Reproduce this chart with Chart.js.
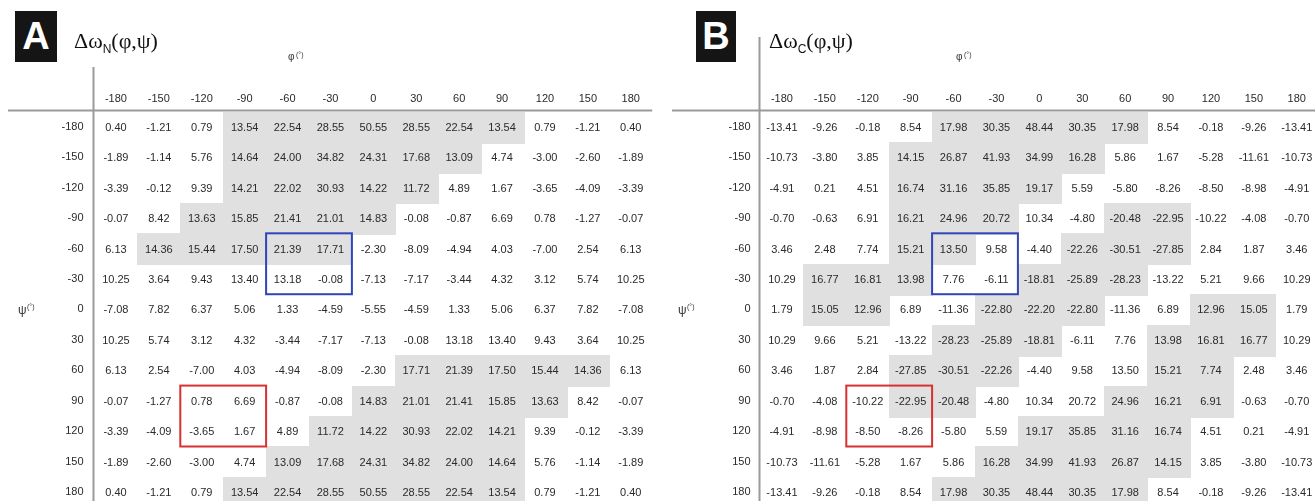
<!DOCTYPE html>
<html>
<head>
<meta charset="utf-8">
<script src="https://cdn.jsdelivr.net/npm/chart.js@4/dist/chart.umd.min.js"></script>
<style>
  html, body { margin: 0; padding: 0; background: #fff; overflow: hidden; width: 1315px; height: 501px; }
  .panel { position: absolute; top: 0; height: 525px; }
  .panel canvas { position: absolute; top: 0; left: 0; }
  .letter { position: absolute; background: #151515; color: #fff; text-align: center;
            font: bold 38px "Liberation Sans", Arial, sans-serif; }
  .title { position: absolute; white-space: nowrap; color: #111;
           font: 22px "Liberation Serif", "Times New Roman", serif; }
  .title sub { font: 12px "Liberation Sans", Arial, sans-serif; vertical-align: -5px; }
</style>
</head>
<body>
<div class="panel" id="panelA" style="left:0;width:658px;">
  <canvas id="chartA" width="658" height="525"></canvas>
</div>
<div class="panel" id="panelB" style="left:658px;width:665px;">
  <canvas id="chartB" width="665" height="524"></canvas>
</div>
<div class="letter" style="left:15px;top:11px;width:42px;height:51px;line-height:51px;">A</div>
<div class="title" style="left:74px;top:28px;">Δω<sub>N</sub>(φ,ψ)</div>
<div class="letter" style="left:696px;top:11px;width:40px;height:51px;line-height:51px;">B</div>
<div class="title" style="left:769px;top:28px;">Δω<sub>C</sub>(φ,ψ)</div>

<script>
// Backbone dihedral grid (degrees)
const phiLabels = ['-180', '-150', '-120', '-90', '-60', '-30', '0', '30', '60', '90', '120', '150', '180'];
const psiLabels = ['-180', '-150', '-120', '-90', '-60', '-30', '0', '30', '60', '90', '120', '150', '180'];

// Δω_N(φ,ψ): rows are ψ, columns are φ
const omegaN = [
  [0.40, -1.21, 0.79, 13.54, 22.54, 28.55, 50.55, 28.55, 22.54, 13.54, 0.79, -1.21, 0.40],
  [-1.89, -1.14, 5.76, 14.64, 24.00, 34.82, 24.31, 17.68, 13.09, 4.74, -3.00, -2.60, -1.89],
  [-3.39, -0.12, 9.39, 14.21, 22.02, 30.93, 14.22, 11.72, 4.89, 1.67, -3.65, -4.09, -3.39],
  [-0.07, 8.42, 13.63, 15.85, 21.41, 21.01, 14.83, -0.08, -0.87, 6.69, 0.78, -1.27, -0.07],
  [6.13, 14.36, 15.44, 17.50, 21.39, 17.71, -2.30, -8.09, -4.94, 4.03, -7.00, 2.54, 6.13],
  [10.25, 3.64, 9.43, 13.40, 13.18, -0.08, -7.13, -7.17, -3.44, 4.32, 3.12, 5.74, 10.25],
  [-7.08, 7.82, 6.37, 5.06, 1.33, -4.59, -5.55, -4.59, 1.33, 5.06, 6.37, 7.82, -7.08],
  [10.25, 5.74, 3.12, 4.32, -3.44, -7.17, -7.13, -0.08, 13.18, 13.40, 9.43, 3.64, 10.25],
  [6.13, 2.54, -7.00, 4.03, -4.94, -8.09, -2.30, 17.71, 21.39, 17.50, 15.44, 14.36, 6.13],
  [-0.07, -1.27, 0.78, 6.69, -0.87, -0.08, 14.83, 21.01, 21.41, 15.85, 13.63, 8.42, -0.07],
  [-3.39, -4.09, -3.65, 1.67, 4.89, 11.72, 14.22, 30.93, 22.02, 14.21, 9.39, -0.12, -3.39],
  [-1.89, -2.60, -3.00, 4.74, 13.09, 17.68, 24.31, 34.82, 24.00, 14.64, 5.76, -1.14, -1.89],
  [0.40, -1.21, 0.79, 13.54, 22.54, 28.55, 50.55, 28.55, 22.54, 13.54, 0.79, -1.21, 0.40]
];

// Δω_C(φ,ψ): rows are ψ, columns are φ
const omegaC = [
  [-13.41, -9.26, -0.18, 8.54, 17.98, 30.35, 48.44, 30.35, 17.98, 8.54, -0.18, -9.26, -13.41],
  [-10.73, -3.80, 3.85, 14.15, 26.87, 41.93, 34.99, 16.28, 5.86, 1.67, -5.28, -11.61, -10.73],
  [-4.91, 0.21, 4.51, 16.74, 31.16, 35.85, 19.17, 5.59, -5.80, -8.26, -8.50, -8.98, -4.91],
  [-0.70, -0.63, 6.91, 16.21, 24.96, 20.72, 10.34, -4.80, -20.48, -22.95, -10.22, -4.08, -0.70],
  [3.46, 2.48, 7.74, 15.21, 13.50, 9.58, -4.40, -22.26, -30.51, -27.85, 2.84, 1.87, 3.46],
  [10.29, 16.77, 16.81, 13.98, 7.76, -6.11, -18.81, -25.89, -28.23, -13.22, 5.21, 9.66, 10.29],
  [1.79, 15.05, 12.96, 6.89, -11.36, -22.80, -22.20, -22.80, -11.36, 6.89, 12.96, 15.05, 1.79],
  [10.29, 9.66, 5.21, -13.22, -28.23, -25.89, -18.81, -6.11, 7.76, 13.98, 16.81, 16.77, 10.29],
  [3.46, 1.87, 2.84, -27.85, -30.51, -22.26, -4.40, 9.58, 13.50, 15.21, 7.74, 2.48, 3.46],
  [-0.70, -4.08, -10.22, -22.95, -20.48, -4.80, 10.34, 20.72, 24.96, 16.21, 6.91, -0.63, -0.70],
  [-4.91, -8.98, -8.50, -8.26, -5.80, 5.59, 19.17, 35.85, 31.16, 16.74, 4.51, 0.21, -4.91],
  [-10.73, -11.61, -5.28, 1.67, 5.86, 16.28, 34.99, 41.93, 26.87, 14.15, 3.85, -3.80, -10.73],
  [-13.41, -9.26, -0.18, 8.54, 17.98, 30.35, 48.44, 30.35, 17.98, 8.54, -0.18, -9.26, -13.41]
];

// Highlighted (grey) cells, one string per ψ row, one character per φ column
const shadeN = [
  '0001111111000',
  '0001111110000',
  '0001111100000',
  '0011111000000',
  '0111110000000',
  '0000000000000',
  '0000000000000',
  '0000000000000',
  '0000000111110',
  '0000001111100',
  '0000011111000',
  '0000111111000',
  '0001111111000'
];
const shadeC = [
  '0000111110000',
  '0001111100000',
  '0001111000000',
  '0001110011000',
  '0001100111000',
  '0111001110000',
  '0110011100110',
  '0000111001110',
  '0001110001100',
  '0001100011100',
  '0000001111000',
  '0000011111000',
  '0000111110000'
];

// Outlined regions: [φ labels, ψ labels]
const blueRegion = { phi: ['-60', '-30'], psi: ['-60', '-30'] };
const redRegion = { phi: ['-120', '-90'], psi: ['90', '120'] };

const SANS = '"Liberation Sans", Arial, sans-serif';
const TEXT_COLOR = '#2a2a2a';
const SHADE_COLOR = '#e0e0e0';
const RULE_COLOR = '#9a9a9a';

function cellData(values, shade) {
  const out = [];
  psiLabels.forEach((psi, r) => {
    phiLabels.forEach((phi, c) => {
      out.push({ x: phi, y: psi, v: values[r][c], s: shade[r][c] === '1' });
    });
  });
  return out;
}

function cellSize(chart) {
  const xs = chart.scales.x, ys = chart.scales.y;
  return {
    w: xs.getPixelForValue(1) - xs.getPixelForValue(0),
    h: ys.getPixelForValue(1) - ys.getPixelForValue(0)
  };
}

const gridTable = {
  id: 'gridTable',
  beforeDatasetsDraw(chart, args, opts) {
    const ctx = chart.ctx;
    const area = chart.chartArea;
    const { w, h } = cellSize(chart);
    ctx.save();
    ctx.fillStyle = SHADE_COLOR;
    chart.getDatasetMeta(0).data.forEach((el, i) => {
      const raw = chart.data.datasets[0].data[i];
      if (!raw.s) return;
      ctx.fillRect(Math.round(el.x - w / 2), Math.round(el.y - h / 2),
                   Math.ceil(w) + 1, Math.ceil(h) + 1);
    });
    // Header rule and row-label rule
    ctx.strokeStyle = RULE_COLOR;
    ctx.lineWidth = 2;
    ctx.beginPath();
    ctx.moveTo(opts.ruleStart, area.top - 1);
    ctx.lineTo(area.right, area.top - 1);
    ctx.stroke();
    ctx.beginPath();
    ctx.moveTo(area.left - 1, opts.ruleTop);
    ctx.lineTo(area.left - 1, chart.height);
    ctx.stroke();
    ctx.restore();
  },
  afterDatasetsDraw(chart, args, opts) {
    const ctx = chart.ctx;
    const xs = chart.scales.x, ys = chart.scales.y;
    const { w, h } = cellSize(chart);
    ctx.save();
    ctx.fillStyle = TEXT_COLOR;
    ctx.font = '11px ' + SANS;
    ctx.textAlign = 'center';
    ctx.textBaseline = 'middle';
    chart.getDatasetMeta(0).data.forEach((el, i) => {
      const raw = chart.data.datasets[0].data[i];
      ctx.fillText(raw.v.toFixed(2), el.x, el.y + 1);
    });
    // Outlined regions
    const outline = (region, color) => {
      const x0 = xs.getPixelForValue(phiLabels.indexOf(region.phi[0])) - w / 2;
      const x1 = xs.getPixelForValue(phiLabels.indexOf(region.phi[region.phi.length - 1])) + w / 2;
      const y0 = ys.getPixelForValue(psiLabels.indexOf(region.psi[0])) - h / 2;
      const y1 = ys.getPixelForValue(psiLabels.indexOf(region.psi[region.psi.length - 1])) + h / 2;
      ctx.strokeStyle = color;
      ctx.lineWidth = 2;
      ctx.strokeRect(x0, y0, x1 - x0, y1 - y0);
    };
    outline(blueRegion, '#2f45b8');
    outline(redRegion, '#d93030');
    // Axis names
    ctx.fillStyle = '#333';
    ctx.textAlign = 'left';
    ctx.textBaseline = 'middle';
    const psiY = ys.getPixelForValue(psiLabels.indexOf('0'));
    ctx.font = '12px ' + SANS;
    ctx.fillText('ψ', opts.psiX, psiY + 1);
    ctx.font = '7px ' + SANS;
    ctx.fillText('(°)', opts.psiX + 9, psiY - 2);
    ctx.font = '10px ' + SANS;
    ctx.fillText('φ', opts.phiX, opts.phiY);
    ctx.font = '7px ' + SANS;
    ctx.fillText('(°)', opts.phiX + 8, opts.phiY - 2);
    ctx.restore();
  }
};

function makeChart(canvasId, values, shade, layout) {
  return new Chart(document.getElementById(canvasId), {
    type: 'scatter',
    data: {
      datasets: [{
        data: cellData(values, shade),
        pointRadius: 0,
        pointHoverRadius: 0,
        showLine: false
      }]
    },
    plugins: [gridTable],
    options: {
      responsive: false,
      animation: false,
      devicePixelRatio: 1,
      events: [],
      layout: { padding: { left: 0, top: 0, right: layout.padRight, bottom: 0 } },
      plugins: {
        legend: { display: false },
        tooltip: { enabled: false },
        gridTable: layout.table
      },
      scales: {
        x: {
          type: 'category',
          labels: phiLabels,
          position: 'top',
          offset: true,
          grid: { display: false, drawTicks: false },
          border: { display: false },
          ticks: { autoSkip: false, maxRotation: 0, padding: 6, color: TEXT_COLOR,
                   font: { family: SANS, size: 11 } },
          afterFit(s) { s.height = layout.axisHeight; }
        },
        y: {
          type: 'category',
          labels: psiLabels,
          position: 'left',
          offset: true,
          grid: { display: false, drawTicks: false },
          border: { display: false },
          ticks: { autoSkip: false, padding: layout.rowPad, color: TEXT_COLOR,
                   font: { family: SANS, size: 11 } },
          afterFit(s) { s.width = layout.axisWidth; }
        }
      }
    }
  });
}

makeChart('chartA', omegaN, shadeN, {
  axisWidth: 94.5, axisHeight: 111.5, padRight: 5.8, rowPad: 11,
  table: { ruleStart: 8, ruleTop: 67, psiX: 18, phiX: 288, phiY: 57 }
});
makeChart('chartB', omegaC, shadeC, {
  axisWidth: 102.5, axisHeight: 111.5, padRight: 4.8, rowPad: 10,
  table: { ruleStart: 14, ruleTop: 37, psiX: 20, phiX: 298, phiY: 57 }
});
</script>
</body>
</html>
